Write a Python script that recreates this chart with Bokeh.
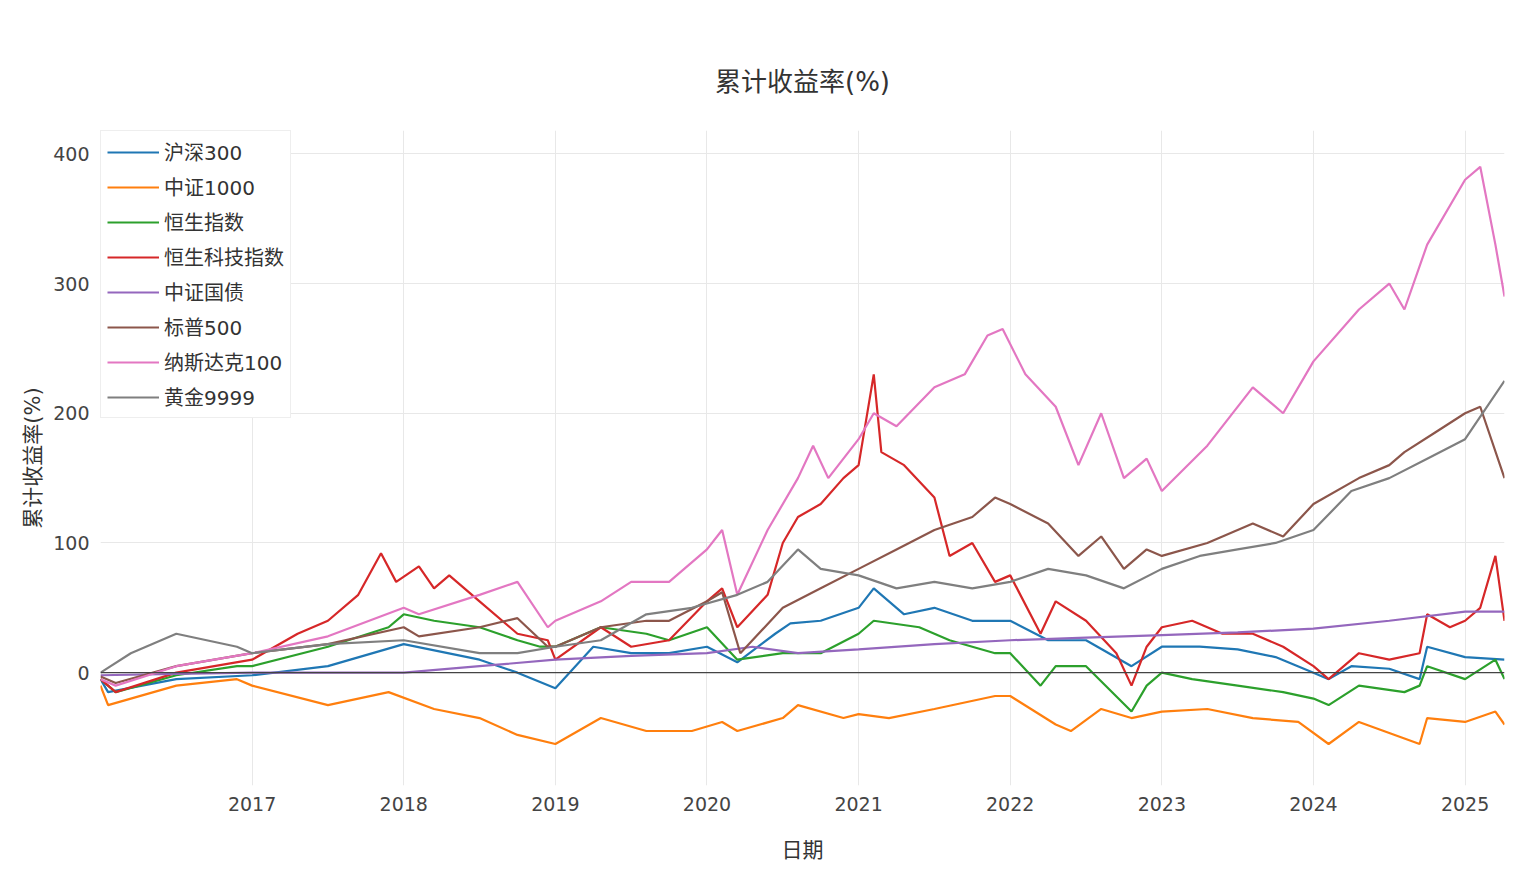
from bokeh.plotting import figure
from bokeh.models import FixedTicker, Span, Legend, LegendItem, Range1d
from bokeh.embed import file_html
from bokeh.resources import INLINE

names = ["沪深300", "中证1000", "恒生指数", "恒生科技指数", "中证国债", "标普500", "纳斯达克100", "黄金9999"]
colors = ["#1f77b4", "#ff7f0e", "#2ca02c", "#d62728", "#9467bd", "#8c564b", "#e377c2", "#7f7f7f"]

hs300 = [(2016.0,-5),(2016.05,-15),(2016.5,-5),(2017.0,-2),(2017.5,5),(2018.0,22),(2018.5,10),(2018.75,0),(2019.0,-12),(2019.25,20),(2019.5,15),(2019.75,15),(2020.0,20),(2020.2,8),(2020.45,30),(2020.55,38),(2020.75,40),(2021.0,50),(2021.1,65),(2021.3,45),(2021.5,50),(2021.75,40),(2022.0,40),(2022.25,25),(2022.5,25),(2022.8,5),(2023.0,20),(2023.25,20),(2023.5,18),(2023.75,12),(2024.0,0),(2024.1,-5),(2024.25,5),(2024.5,3),(2024.7,-5),(2024.75,20),(2025.0,12),(2025.26,10)]
zz1000 = [(2016.0,-10),(2016.05,-25),(2016.5,-10),(2016.9,-5),(2017.0,-10),(2017.5,-25),(2017.9,-15),(2018.2,-28),(2018.5,-35),(2018.75,-48),(2019.0,-55),(2019.3,-35),(2019.6,-45),(2019.9,-45),(2020.1,-38),(2020.2,-45),(2020.5,-35),(2020.6,-25),(2020.9,-35),(2021.0,-32),(2021.2,-35),(2021.5,-28),(2021.9,-18),(2022.0,-18),(2022.3,-40),(2022.4,-45),(2022.6,-28),(2022.8,-35),(2023.0,-30),(2023.3,-28),(2023.6,-35),(2023.9,-38),(2024.1,-55),(2024.3,-38),(2024.7,-55),(2024.75,-35),(2025.0,-38),(2025.2,-30),(2025.26,-40)]
hsi = [(2016.0,-5),(2016.1,-15),(2016.5,-2),(2016.9,5),(2017.0,5),(2017.5,20),(2017.9,35),(2018.0,45),(2018.2,40),(2018.5,35),(2018.75,25),(2018.9,20),(2019.0,20),(2019.3,35),(2019.6,30),(2019.75,25),(2020.0,35),(2020.2,10),(2020.5,15),(2020.75,15),(2021.0,30),(2021.1,40),(2021.4,35),(2021.6,25),(2021.9,15),(2022.0,15),(2022.2,-10),(2022.3,5),(2022.5,5),(2022.8,-30),(2022.9,-10),(2023.0,0),(2023.2,-5),(2023.5,-10),(2023.8,-15),(2024.0,-20),(2024.1,-25),(2024.3,-10),(2024.6,-15),(2024.7,-10),(2024.75,5),(2025.0,-5),(2025.2,10),(2025.26,-5)]
hstech = [(2016.0,-5),(2016.1,-15),(2016.5,0),(2017.0,10),(2017.3,30),(2017.5,40),(2017.7,60),(2017.85,92),(2017.95,70),(2018.1,82),(2018.2,65),(2018.3,75),(2018.5,55),(2018.75,30),(2018.95,25),(2019.0,10),(2019.3,35),(2019.5,20),(2019.75,25),(2020.0,55),(2020.1,65),(2020.2,35),(2020.4,60),(2020.5,100),(2020.6,120),(2020.75,130),(2020.9,150),(2021.0,160),(2021.1,230),(2021.15,170),(2021.3,160),(2021.5,135),(2021.6,90),(2021.75,100),(2021.9,70),(2022.0,75),(2022.2,30),(2022.3,55),(2022.5,40),(2022.7,15),(2022.8,-10),(2022.9,20),(2023.0,35),(2023.2,40),(2023.4,30),(2023.6,30),(2023.8,20),(2024.0,5),(2024.1,-5),(2024.3,15),(2024.5,10),(2024.7,15),(2024.75,45),(2024.9,35),(2025.0,40),(2025.1,50),(2025.2,90),(2025.26,40)]
bond = [(2016.0,-2),(2017.0,0),(2018.0,0),(2018.5,5),(2019.0,10),(2019.5,13),(2020.0,15),(2020.3,20),(2020.6,15),(2021.0,18),(2021.5,22),(2022.0,25),(2022.5,27),(2023.0,29),(2023.5,31),(2024.0,34),(2024.5,40),(2025.0,47),(2025.26,47)]
spx = [(2016.0,-3),(2016.1,-8),(2016.5,5),(2017.0,15),(2017.5,22),(2018.0,35),(2018.1,28),(2018.5,35),(2018.75,42),(2018.95,20),(2019.0,20),(2019.3,35),(2019.6,40),(2019.75,40),(2020.0,55),(2020.1,62),(2020.22,15),(2020.5,50),(2020.75,65),(2021.0,80),(2021.25,95),(2021.5,110),(2021.75,120),(2021.9,135),(2022.0,130),(2022.25,115),(2022.45,90),(2022.6,105),(2022.75,80),(2022.9,95),(2023.0,90),(2023.3,100),(2023.6,115),(2023.8,105),(2024.0,130),(2024.3,150),(2024.5,160),(2024.6,170),(2024.8,185),(2025.0,200),(2025.1,205),(2025.26,150)]
ndx = [(2016.0,-5),(2016.1,-10),(2016.5,5),(2017.0,15),(2017.5,28),(2018.0,50),(2018.1,45),(2018.5,60),(2018.75,70),(2018.95,35),(2019.0,40),(2019.3,55),(2019.5,70),(2019.75,70),(2020.0,95),(2020.1,110),(2020.2,60),(2020.4,110),(2020.6,150),(2020.7,175),(2020.8,150),(2021.0,180),(2021.1,200),(2021.25,190),(2021.5,220),(2021.7,230),(2021.85,260),(2021.95,265),(2022.1,230),(2022.3,205),(2022.45,160),(2022.6,200),(2022.75,150),(2022.9,165),(2023.0,140),(2023.3,175),(2023.6,220),(2023.8,200),(2024.0,240),(2024.3,280),(2024.5,300),(2024.6,280),(2024.75,330),(2025.0,380),(2025.1,390),(2025.2,330),(2025.26,290)]
gold = [(2016.0,0),(2016.2,15),(2016.5,30),(2016.9,20),(2017.0,15),(2017.5,22),(2018.0,25),(2018.5,15),(2018.75,15),(2019.0,20),(2019.3,25),(2019.6,45),(2019.9,50),(2020.2,60),(2020.4,70),(2020.6,95),(2020.75,80),(2021.0,75),(2021.25,65),(2021.5,70),(2021.75,65),(2022.0,70),(2022.25,80),(2022.5,75),(2022.75,65),(2023.0,80),(2023.25,90),(2023.5,95),(2023.75,100),(2024.0,110),(2024.25,140),(2024.5,150),(2024.75,165),(2025.0,180),(2025.26,225)]
series = [hs300, zz1000, hsi, hstech, bond, spx, ndx, gold]
year_ticks = [2017, 2018, 2019, 2020, 2021, 2022, 2023, 2024, 2025]
y_ticks = [0, 100, 200, 300, 400]

FONT = "DejaVu Sans, Noto Sans CJK SC"
p = figure(width=1510, height=864, output_backend="svg", toolbar_location=None,
           x_range=Range1d(2016.0, 2025.26), y_range=Range1d(-87, 418),
           min_border_left=100, min_border_right=6, min_border_top=130, min_border_bottom=79)
p.title.text = "累计收益率(%)"
p.title.align = "center"
p.title.text_font = FONT
p.title.text_font_size = "26px"
p.title.text_font_style = "normal"
p.title.text_color = "#333"
p.title.standoff = 68
p.outline_line_color = None
p.xaxis.ticker = FixedTicker(ticks=year_ticks)
p.xaxis.major_label_overrides = {y: str(y) for y in year_ticks}
p.yaxis.ticker = FixedTicker(ticks=y_ticks)
for ax in (p.xaxis[0], p.yaxis[0]):
    ax.axis_line_color = None
    ax.major_tick_line_color = None
    ax.minor_tick_line_color = None
    ax.major_label_text_font = FONT
    ax.major_label_text_font_size = "19px"
    ax.major_label_text_color = "#444"
    ax.axis_label_text_font = FONT
    ax.axis_label_text_font_size = "21px"
    ax.axis_label_text_font_style = "normal"
    ax.axis_label_text_color = "#333"
p.xaxis.axis_label = "日期"
p.yaxis.axis_label = "累计收益率(%)"
p.xaxis.axis_label_standoff = 24
p.grid.grid_line_color = "#e8e8e8"
p.add_layout(Span(location=0, dimension="width", line_color="#444", line_width=1.2))

items = []
for name, c, s in zip(names, colors, series):
    r = p.line([a for a, b in s], [b for a, b in s], line_color=c, line_width=2.2)
    items.append(LegendItem(label=name, renderers=[r]))
leg = Legend(items=items, location="top_left", label_text_font=FONT, label_text_font_size="20px",
             label_text_color="#333", glyph_width=52, glyph_height=28, spacing=6, label_height=28,
             border_line_color="#ddd", background_fill_alpha=1, margin=0, padding=6)
p.add_layout(leg)

open("out.html", "w").write(file_html(p, INLINE))
